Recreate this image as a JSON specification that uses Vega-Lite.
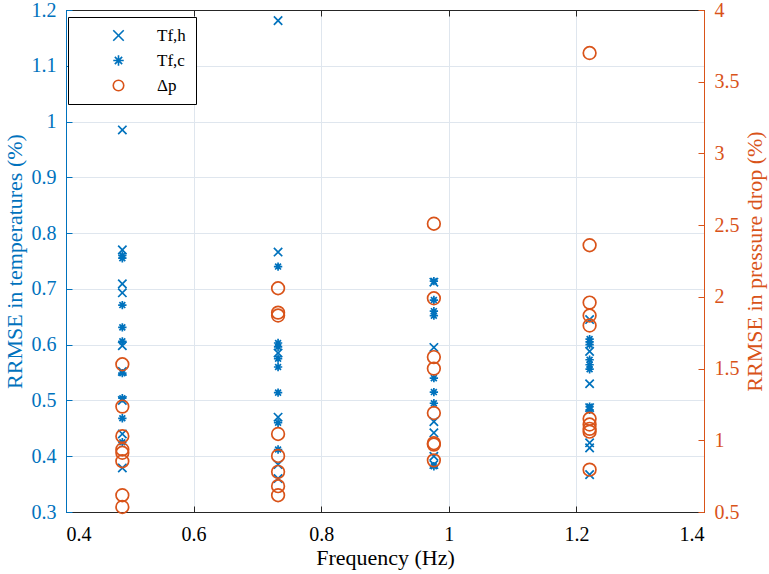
{
  "$schema": "https://vega.github.io/schema/vega-lite/v6.json",
  "width": 638,
  "height": 502,
  "autosize": "none",
  "padding": {"left": 66, "top": 10, "right": 65, "bottom": 62},
  "background": "white",
  "data": {
    "values": [
      {"f": 0.4883, "series": "Tf,h", "v": 0.985},
      {"f": 0.4883, "series": "Tf,h", "v": 0.770},
      {"f": 0.4883, "series": "Tf,h", "v": 0.709},
      {"f": 0.4883, "series": "Tf,h", "v": 0.693},
      {"f": 0.4883, "series": "Tf,h", "v": 0.598},
      {"f": 0.4883, "series": "Tf,h", "v": 0.552},
      {"f": 0.4883, "series": "Tf,h", "v": 0.500},
      {"f": 0.4883, "series": "Tf,h", "v": 0.440},
      {"f": 0.4883, "series": "Tf,h", "v": 0.379},
      {"f": 0.7324, "series": "Tf,h", "v": 1.181},
      {"f": 0.7324, "series": "Tf,h", "v": 0.766},
      {"f": 0.7324, "series": "Tf,h", "v": 0.585},
      {"f": 0.7324, "series": "Tf,h", "v": 0.470},
      {"f": 0.7324, "series": "Tf,h", "v": 0.385},
      {"f": 0.7324, "series": "Tf,h", "v": 0.360},
      {"f": 0.9766, "series": "Tf,h", "v": 0.712},
      {"f": 0.9766, "series": "Tf,h", "v": 0.595},
      {"f": 0.9766, "series": "Tf,h", "v": 0.462},
      {"f": 0.9766, "series": "Tf,h", "v": 0.442},
      {"f": 0.9766, "series": "Tf,h", "v": 0.400},
      {"f": 0.9766, "series": "Tf,h", "v": 0.385},
      {"f": 1.2207, "series": "Tf,h", "v": 0.645},
      {"f": 1.2207, "series": "Tf,h", "v": 0.588},
      {"f": 1.2207, "series": "Tf,h", "v": 0.530},
      {"f": 1.2207, "series": "Tf,h", "v": 0.487},
      {"f": 1.2207, "series": "Tf,h", "v": 0.424},
      {"f": 1.2207, "series": "Tf,h", "v": 0.415},
      {"f": 1.2207, "series": "Tf,h", "v": 0.367},
      {"f": 0.4883, "series": "Tf,c", "v": 0.760},
      {"f": 0.4883, "series": "Tf,c", "v": 0.755},
      {"f": 0.4883, "series": "Tf,c", "v": 0.671},
      {"f": 0.4883, "series": "Tf,c", "v": 0.631},
      {"f": 0.4883, "series": "Tf,c", "v": 0.606},
      {"f": 0.4883, "series": "Tf,c", "v": 0.549},
      {"f": 0.4883, "series": "Tf,c", "v": 0.504},
      {"f": 0.4883, "series": "Tf,c", "v": 0.468},
      {"f": 0.4883, "series": "Tf,c", "v": 0.425},
      {"f": 0.7324, "series": "Tf,c", "v": 0.740},
      {"f": 0.7324, "series": "Tf,c", "v": 0.603},
      {"f": 0.7324, "series": "Tf,c", "v": 0.596},
      {"f": 0.7324, "series": "Tf,c", "v": 0.575},
      {"f": 0.7324, "series": "Tf,c", "v": 0.560},
      {"f": 0.7324, "series": "Tf,c", "v": 0.514},
      {"f": 0.7324, "series": "Tf,c", "v": 0.460},
      {"f": 0.7324, "series": "Tf,c", "v": 0.412},
      {"f": 0.9766, "series": "Tf,c", "v": 0.714},
      {"f": 0.9766, "series": "Tf,c", "v": 0.680},
      {"f": 0.9766, "series": "Tf,c", "v": 0.660},
      {"f": 0.9766, "series": "Tf,c", "v": 0.652},
      {"f": 0.9766, "series": "Tf,c", "v": 0.540},
      {"f": 0.9766, "series": "Tf,c", "v": 0.515},
      {"f": 0.9766, "series": "Tf,c", "v": 0.495},
      {"f": 0.9766, "series": "Tf,c", "v": 0.382},
      {"f": 1.2207, "series": "Tf,c", "v": 0.610},
      {"f": 1.2207, "series": "Tf,c", "v": 0.605},
      {"f": 1.2207, "series": "Tf,c", "v": 0.600},
      {"f": 1.2207, "series": "Tf,c", "v": 0.573},
      {"f": 1.2207, "series": "Tf,c", "v": 0.564},
      {"f": 1.2207, "series": "Tf,c", "v": 0.556},
      {"f": 1.2207, "series": "Tf,c", "v": 0.489},
      {"f": 1.2207, "series": "Tf,c", "v": 0.483},
      {"f": 0.4883, "series": "Δp", "v": 1.53},
      {"f": 0.4883, "series": "Δp", "v": 1.235},
      {"f": 0.4883, "series": "Δp", "v": 1.029},
      {"f": 0.4883, "series": "Δp", "v": 0.936},
      {"f": 0.4883, "series": "Δp", "v": 0.913},
      {"f": 0.4883, "series": "Δp", "v": 0.854},
      {"f": 0.4883, "series": "Δp", "v": 0.617},
      {"f": 0.4883, "series": "Δp", "v": 0.535},
      {"f": 0.7324, "series": "Δp", "v": 2.06},
      {"f": 0.7324, "series": "Δp", "v": 1.89},
      {"f": 0.7324, "series": "Δp", "v": 1.87},
      {"f": 0.7324, "series": "Δp", "v": 1.044},
      {"f": 0.7324, "series": "Δp", "v": 0.891},
      {"f": 0.7324, "series": "Δp", "v": 0.78},
      {"f": 0.7324, "series": "Δp", "v": 0.68},
      {"f": 0.7324, "series": "Δp", "v": 0.617},
      {"f": 0.9766, "series": "Δp", "v": 2.51},
      {"f": 0.9766, "series": "Δp", "v": 1.99},
      {"f": 0.9766, "series": "Δp", "v": 1.58},
      {"f": 0.9766, "series": "Δp", "v": 1.50},
      {"f": 0.9766, "series": "Δp", "v": 1.19},
      {"f": 0.9766, "series": "Δp", "v": 0.98},
      {"f": 0.9766, "series": "Δp", "v": 0.97},
      {"f": 0.9766, "series": "Δp", "v": 0.86},
      {"f": 1.2207, "series": "Δp", "v": 3.70},
      {"f": 1.2207, "series": "Δp", "v": 2.36},
      {"f": 1.2207, "series": "Δp", "v": 1.96},
      {"f": 1.2207, "series": "Δp", "v": 1.87},
      {"f": 1.2207, "series": "Δp", "v": 1.80},
      {"f": 1.2207, "series": "Δp", "v": 1.15},
      {"f": 1.2207, "series": "Δp", "v": 1.11},
      {"f": 1.2207, "series": "Δp", "v": 1.08},
      {"f": 1.2207, "series": "Δp", "v": 1.06},
      {"f": 1.2207, "series": "Δp", "v": 0.795}
    ]
  },
  "encoding": {
    "color": {
      "field": "series",
      "type": "nominal",
      "scale": {"domain": ["Tf,h", "Tf,c", "Δp"], "range": ["#0072BD", "#0072BD", "#D95319"]},
      "legend": {
        "title": null,
        "orient": "none",
        "legendX": 2,
        "legendY": 7,
        "strokeColor": "#000000",
        "fillColor": "#ffffff",
        "padding": 10,
        "symbolOffset": 32,
        "labelOffset": 30,
        "rowPadding": 7,
        "symbolSize": 110,
        "symbolStrokeWidth": 1.6,
        "symbolOpacity": 1,
        "labelFont": "Liberation Serif",
        "labelFontSize": 17,
        "labelColor": "#000000"
      }
    },
    "shape": {
      "field": "series",
      "type": "nominal",
      "scale": {
        "domain": ["Tf,h", "Tf,c", "Δp"],
        "range": [
          "M-1,-1L1,1M-1,1L1,-1",
          "M0,-1L0,1M-1,0L1,0M-0.7,-0.7L0.7,0.7M-0.7,0.7L0.7,-0.7",
          "circle"
        ]
      }
    }
  },
  "layer": [
    {
      "transform": [{"filter": "datum.series !== 'Δp'"}],
      "mark": {"type": "point", "filled": false, "opacity": 1, "strokeWidth": 1.7, "size": 70},
      "encoding": {
        "x": {
          "field": "f",
          "type": "quantitative",
          "scale": {"domain": [0.4, 1.4], "nice": false},
          "axis": {
            "title": "Frequency (Hz)",
            "values": [0.4, 0.6, 0.8, 1, 1.2, 1.4],
            "format": "~g",
            "grid": true,
            "labelPadding": 18,
            "domainColor": "#262626",
            "tickColor": "#262626",
            "labelColor": "#000000",
            "titleColor": "#000000",
            "titlePadding": 3
          }
        },
        "y": {
          "field": "v",
          "type": "quantitative",
          "scale": {"domain": [0.3, 1.2], "nice": false, "zero": false},
          "axis": {
            "title": "RRMSE in temperatures (%)",
            "values": [0.3, 0.4, 0.5, 0.6, 0.7, 0.8, 0.9, 1, 1.1, 1.2],
            "format": "~g",
            "grid": true,
            "labelPadding": 16,
            "domainColor": "#0072BD",
            "tickColor": "#0072BD",
            "labelColor": "#0072BD",
            "titleColor": "#0072BD",
            "titlePadding": 5
          }
        }
      }
    },
    {
      "transform": [{"filter": "datum.series === 'Δp'"}],
      "mark": {"type": "point", "filled": false, "opacity": 1, "strokeWidth": 1.7, "size": 160},
      "encoding": {
        "x": {
          "field": "f",
          "type": "quantitative",
          "scale": {"domain": [0.4, 1.4], "nice": false},
          "axis": {
            "orient": "top",
            "title": null,
            "labels": false,
            "grid": false,
            "values": [0.4, 0.6, 0.8, 1, 1.2, 1.4],
            "domainColor": "#262626",
            "tickColor": "#262626"
          }
        },
        "y": {
          "field": "v",
          "type": "quantitative",
          "scale": {"domain": [0.5, 4], "nice": false, "zero": false},
          "axis": {
            "orient": "right",
            "title": "RRMSE in pressure drop (%)",
            "titleAngle": 270,
            "titleBaseline": "top",
            "values": [0.5, 1, 1.5, 2, 2.5, 3, 3.5, 4],
            "format": "~g",
            "grid": false,
            "labelPadding": 16,
            "domainColor": "#D95319",
            "tickColor": "#D95319",
            "labelColor": "#D95319",
            "titleColor": "#D95319",
            "titlePadding": 5
          }
        }
      }
    }
  ],
  "resolve": {"scale": {"y": "independent"}, "axis": {"x": "independent", "y": "independent"}},
  "config": {
    "view": {"stroke": "#262626", "strokeWidth": 1},
    "font": "Liberation Serif",
    "axis": {
      "labelFont": "Liberation Serif",
      "titleFont": "Liberation Serif",
      "labelFontSize": 20,
      "titleFontSize": 22,
      "titleFontWeight": "normal",
      "tickSize": -6,
      "domainWidth": 1,
      "gridColor": "#dfe6ee",
      "gridWidth": 1
    },
    "legend": {"cornerRadius": 0}
  }
}
